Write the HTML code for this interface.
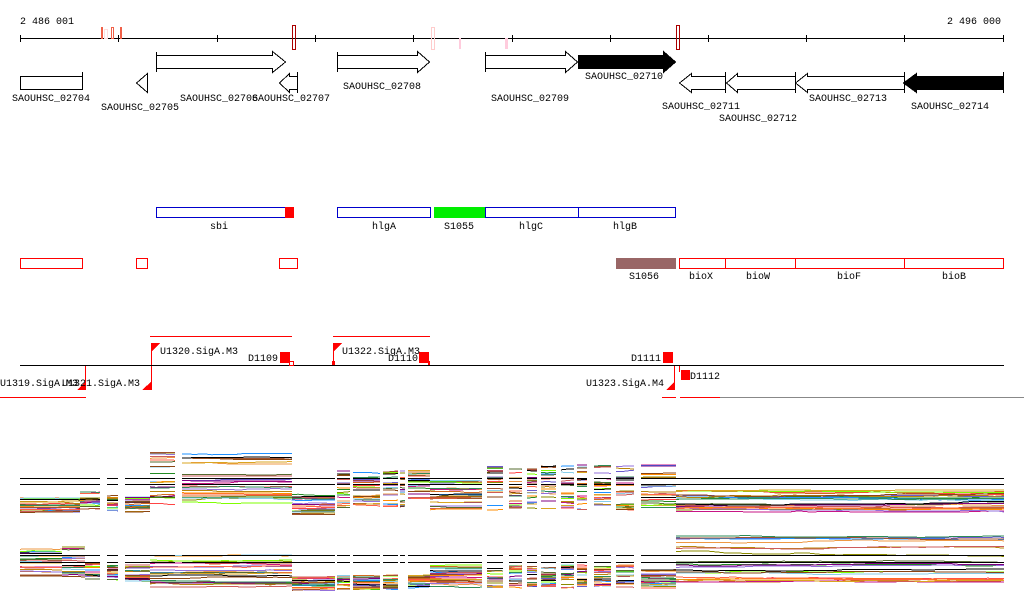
<!DOCTYPE html>
<html><head><meta charset="utf-8"><style>
html,body{margin:0;padding:0;background:#fff;width:1024px;height:611px;overflow:hidden}
svg text{font-family:"Liberation Mono",monospace;font-size:10px;fill:#000}
</style></head><body>
<svg id="s" width="1024" height="611" xmlns="http://www.w3.org/2000/svg" shape-rendering="crispEdges">
<text x="20" y="24">2 486 001</text>
<text x="947" y="24">2 496 000</text>
<line x1="20" y1="38.5" x2="1004" y2="38.5" stroke="#000"/>
<g stroke="#000">
<line x1="20.5" y1="35" x2="20.5" y2="42"/><line x1="118.5" y1="35" x2="118.5" y2="42"/><line x1="217.5" y1="35" x2="217.5" y2="42"/><line x1="315.5" y1="35" x2="315.5" y2="42"/><line x1="413.5" y1="35" x2="413.5" y2="42"/><line x1="512.5" y1="35" x2="512.5" y2="42"/><line x1="610.5" y1="35" x2="610.5" y2="42"/><line x1="708.5" y1="35" x2="708.5" y2="42"/><line x1="806.5" y1="35" x2="806.5" y2="42"/><line x1="904.5" y1="35" x2="904.5" y2="42"/><line x1="1003.5" y1="35" x2="1003.5" y2="42"/>
</g>
<rect x="101" y="27" width="2" height="12" fill="#f06048"/>
<rect x="104.5" y="29.5" width="3" height="9" fill="none" stroke="#fdd"/>
<rect x="111.5" y="27.5" width="2" height="11" fill="none" stroke="#f06048"/>
<rect x="120" y="27" width="2" height="12" fill="#f06048"/>
<rect x="292.5" y="25.5" width="3" height="24" fill="none" stroke="#a00"/>
<rect x="431.5" y="27.5" width="3" height="22" fill="none" stroke="#fcc"/>
<rect x="459" y="38" width="2" height="11" fill="#fcd"/>
<rect x="505" y="38" width="3" height="11" fill="#fcd"/>
<rect x="676.5" y="25.5" width="3" height="24" fill="none" stroke="#a00"/>
<g fill="#fff" stroke="#000">
<path d="M156.5 55.5H272.5V51.5L285.5 62L272.5 72.5V68.5H156.5Z"/><line x1="156.5" y1="52" x2="156.5" y2="72"/>
<path d="M337.5 55.5H417.5V51.5L429.5 62L417.5 72.5V68.5H337.5Z"/><line x1="337.5" y1="52" x2="337.5" y2="72"/>
<path d="M485.5 55.5H565.5V51.5L577.5 62L565.5 72.5V68.5H485.5Z"/><line x1="485.5" y1="52" x2="485.5" y2="72"/>
<path d="M578.5 55.5H663.5V51.5L675.5 62L663.5 72.5V68.5H578.5Z" fill="#000"/>
<rect x="20.5" y="76.5" width="62" height="13"/><line x1="82.5" y1="72" x2="82.5" y2="90"/>
<path d="M147.5 73.5V92.5L136.5 83Z"/>
<path d="M297.5 76.5H289.5V73.5L279.5 83L289.5 92.5V89.5H297.5Z"/><line x1="297.5" y1="72" x2="297.5" y2="93"/>
<path d="M725.5 76.5H691.5V73.5L679.5 83L691.5 92.5V89.5H725.5Z"/><line x1="725.5" y1="72" x2="725.5" y2="93"/>
<path d="M795.5 76.5H737.5V73.5L726.5 83L737.5 92.5V89.5H795.5Z"/><line x1="795.5" y1="72" x2="795.5" y2="93"/>
<path d="M904.5 76.5H807.5V73.5L795.5 83L807.5 92.5V89.5H904.5Z"/><line x1="904.5" y1="72" x2="904.5" y2="93"/>
<path d="M1003.5 76.5H916.5V73.5L903.5 83L916.5 92.5V89.5H1003.5Z" fill="#000"/><line x1="1003.5" y1="72" x2="1003.5" y2="93"/>
</g>
<text x="12" y="101">SAOUHSC_02704</text>
<text x="101" y="110">SAOUHSC_02705</text>
<text x="180" y="101">SAOUHSC_02706</text>
<text x="252" y="101">SAOUHSC_02707</text>
<text x="343" y="89">SAOUHSC_02708</text>
<text x="491" y="101">SAOUHSC_02709</text>
<text x="585" y="79">SAOUHSC_02710</text>
<text x="662" y="109">SAOUHSC_02711</text>
<text x="719" y="121">SAOUHSC_02712</text>
<text x="809" y="101">SAOUHSC_02713</text>
<text x="911" y="109">SAOUHSC_02714</text>
<g fill="#fff" stroke="#00c">
<rect x="156.5" y="207.5" width="137" height="10"/>
<rect x="337.5" y="207.5" width="93" height="10"/>
<rect x="485.5" y="207.5" width="93" height="10"/>
<rect x="578.5" y="207.5" width="97" height="10"/>
</g>
<rect x="285" y="207" width="9" height="11" fill="#f00"/>
<rect x="434" y="207" width="51" height="11" fill="#0e0"/>
<text x="210" y="229">sbi</text><text x="372" y="229">hlgA</text><text x="444" y="229">S1055</text><text x="519" y="229">hlgC</text><text x="613" y="229">hlgB</text>
<g fill="#fff" stroke="#f00">
<rect x="20.5" y="258.5" width="62" height="10"/>
<rect x="136.5" y="258.5" width="11" height="10"/>
<rect x="279.5" y="258.5" width="18" height="10"/>
<rect x="679.5" y="258.5" width="46" height="10"/>
<rect x="725.5" y="258.5" width="70" height="10"/>
<rect x="795.5" y="258.5" width="109" height="10"/>
<rect x="904.5" y="258.5" width="99" height="10"/>
</g>
<rect x="616" y="258" width="60" height="11" fill="#966"/>
<text x="629" y="279">S1056</text><text x="689" y="279">bioX</text><text x="746" y="279">bioW</text><text x="837" y="279">bioF</text><text x="942" y="279">bioB</text>
<g stroke="#f00" fill="none">
<line x1="150" y1="336.5" x2="292" y2="336.5"/><line x1="333" y1="336.5" x2="430" y2="336.5"/>
<line x1="0" y1="397.5" x2="86" y2="397.5"/><line x1="662" y1="397.5" x2="676" y2="397.5"/><line x1="680" y1="397.5" x2="720" y2="397.5"/>
<line x1="151.5" y1="343" x2="151.5" y2="390"/><line x1="85.5" y1="365" x2="85.5" y2="390"/><line x1="333.5" y1="343" x2="333.5" y2="365"/><line x1="674.5" y1="365" x2="674.5" y2="390"/><line x1="679.5" y1="365" x2="679.5" y2="372"/>
</g>
<line x1="720" y1="397.5" x2="1024" y2="397.5" stroke="#888"/>
<line x1="20" y1="365.5" x2="1004" y2="365.5" stroke="#000"/>
<g fill="#f00">
<path d="M151 343H160L151 352Z"/><path d="M333 343H342L333 352Z"/>
<path d="M77 390H86V381Z"/><path d="M142 390H152V381Z"/><path d="M666 390H675V381Z"/>
<rect x="280" y="352" width="10" height="11"/><rect x="419" y="352" width="10" height="11"/><rect x="663" y="352" width="10" height="11"/><rect x="681" y="370" width="9" height="10"/>
<rect x="332" y="361" width="3" height="4"/><rect x="428" y="361" width="2" height="4"/>
</g>
<rect x="289.5" y="361.5" width="4" height="4" fill="#fff" stroke="#f00"/>
<text x="0" y="386">U1319.SigA.M3</text><text x="62" y="386">U1321.SigA.M3</text>
<text x="160" y="354">U1320.SigA.M3</text><text x="342" y="354">U1322.SigA.M3</text>
<text x="248" y="361">D1109</text><text x="388" y="361">D1110</text><text x="631" y="361">D1111</text><text x="690" y="379">D1112</text>
<text x="586" y="386">U1323.SigA.M4</text>
<g id="plots" fill="none" stroke-width="1"></g>
</svg>
<script>
(function(){
var g=document.getElementById('plots');var ns='http://www.w3.org/2000/svg';
var cols=['#d2691e','#8b8b00','#c71585','#e94','#6a5acd','#228b22','#f44','#1e90ff','#b8860b','#9370db','#7fff00','#cd5c5c','#a0522d','#ff8c00','#556b2f','#87ceeb','#800080','#daa520','#ff6347','#2e8b57','#8b4513','#000'];
var seed=7;function r(){seed=(seed*16807)%2147483647;return seed/2147483647;}
function seg(x0,x1,y0,y1,n){for(var i=0;i<n;i++){var y=y0+r()*(y1-y0);var d='M'+x0+' '+y.toFixed(1);for(var x=x0+6;x<=x1+5;x+=6){var xx=Math.min(x,x1);if(r()<0.3)y+=(r()-0.5)*1.5;if(y<y0)y=y0;if(y>y1)y=y1;d+='L'+xx+' '+y.toFixed(1);}var p=document.createElementNS(ns,'path');p.setAttribute('d',d);p.setAttribute('stroke',cols[i%cols.length]);g.appendChild(p);}}
var top=[[20,80,498,513],[80,100,492,510],[107,118,494,511],[125,150,497,512],[150,175,452,505],[182,292,452,505],[292,335,494,515],[337,350,470,508],[353,380,470,508],[383,398,470,508],[400,405,470,508],[408,430,470,508],[430,482,475,510],[487,503,465,510],[509,522,465,510],[527,537,465,510],[541,556,465,510],[561,574,465,510],[577,587,465,510],[594,611,465,510],[616,634,465,510],[641,676,465,510],[676,1004,490,512]];
var bot=[[20,62,548,577],[62,85,545,577],[85,100,562,580],[107,118,565,580],[125,150,565,583],[150,292,555,590],[292,335,575,592],[337,350,575,590],[353,380,575,590],[383,398,575,590],[408,430,575,588],[430,482,565,588],[487,503,565,588],[509,522,565,588],[527,537,565,588],[541,556,565,588],[561,574,565,588],[577,587,565,588],[594,611,565,588],[616,634,565,588],[641,676,565,588],[676,1004,535,582]];
top.forEach(function(s){seg(s[0],s[1],s[2],s[3],22);});
bot.forEach(function(s){seg(s[0],s[1],s[2],s[3],22);});
function bl(y,segs){segs.forEach(function(s){var l=document.createElementNS(ns,'line');l.setAttribute('x1',s[0]);l.setAttribute('x2',s[1]);l.setAttribute('y1',y+.5);l.setAttribute('y2',y+.5);l.setAttribute('stroke','#000');g.appendChild(l);});}
[478,484,555,562].forEach(function(y){bl(y,top.map(function(s){return[s[0],s[1]];}));});
})();
</script>
</body></html>
